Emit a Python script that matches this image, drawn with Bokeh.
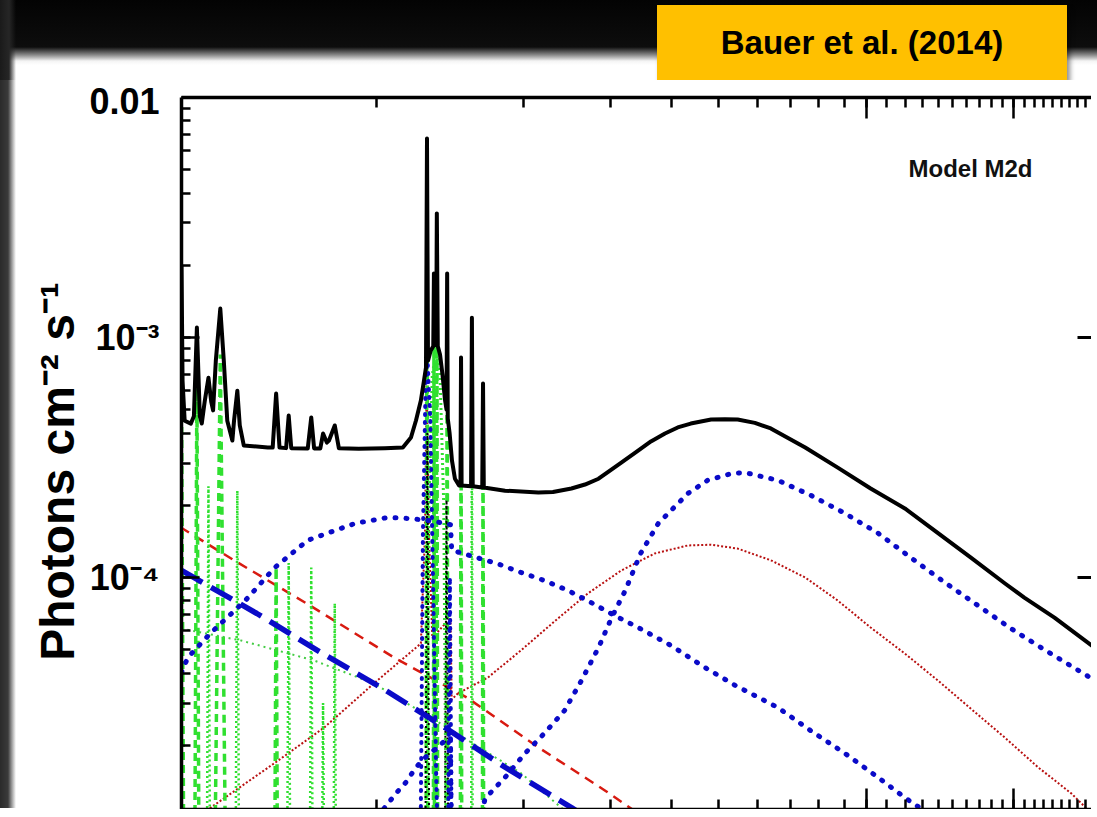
from bokeh.plotting import figure
from bokeh.layouts import column, row
from bokeh.models import (LogAxis, LogTicker, Label, Range1d, Div,
                          CustomJSTickFormatter)
from bokeh.embed import file_html
from bokeh.resources import INLINE

# ---------------- data: energy (keV) and photons cm^-2 s^-1 ----------------
# total model (black solid)
total_E = [2.00, 2.01, 2.03, 2.09, 2.12, 2.15, 2.18, 2.20, 2.23, 2.27, 2.30, 2.32,
           2.35, 2.40, 2.44, 2.48, 2.54, 2.56, 2.60, 2.63, 2.68, 3.00, 3.07, 3.12,
           3.17, 3.27, 3.31, 3.35, 3.62, 3.68, 3.73, 3.84, 3.89, 3.96, 4.00, 4.11,
           4.19, 4.60, 5.20, 5.66, 5.88, 6.02, 6.16, 6.25, 6.31, 6.34, 6.37, 6.45,
           6.53, 6.55, 6.57, 6.62, 6.64, 6.67, 6.74, 6.82, 6.90, 6.95, 6.97, 6.99,
           7.05, 7.13, 7.23, 7.37, 7.42, 7.44, 7.46, 7.80, 7.83, 7.86, 8.22, 8.25,
           8.28, 9.15, 10.7, 11.46, 12.5, 13.32, 14.2, 14.98, 15.8, 17.1, 18.16,
           19.4, 20.6, 21.9, 24.1, 25.72, 27.3, 29.6, 31.9, 37.5, 43.7, 51.0, 59.9,
           70.0, 81.7, 95.9, 105.0, 121.0, 146.0]
total_F = [2.0e-3, 6.6e-4, 4.5e-4, 4.38e-4, 4.7e-4, 1.10e-3, 4.7e-4, 4.38e-4, 5.4e-4,
           6.8e-4, 5.4e-4, 4.97e-4, 8.0e-4, 1.32e-3, 8.0e-4, 4.5e-4, 3.72e-4, 4.5e-4,
           6.0e-4, 4.3e-4, 3.55e-4, 3.48e-4, 3.48e-4, 5.84e-4, 3.48e-4, 3.46e-4,
           4.73e-4, 3.46e-4, 3.45e-4, 4.64e-4, 3.45e-4, 3.45e-4, 3.98e-4, 3.65e-4,
           3.72e-4, 4.30e-4, 3.46e-4, 3.44e-4, 3.46e-4, 3.48e-4, 3.83e-4, 4.51e-4,
           5.46e-4, 6.6e-4, 7.5e-4, 6.75e-3, 8.0e-4, 8.8e-4, 9.2e-4, 1.85e-3, 9.3e-4,
           9.3e-4, 3.29e-3, 9.2e-4, 8.5e-4, 7.0e-4, 5.5e-4, 5.0e-4, 1.85e-3, 4.6e-4,
           4.0e-4, 3.07e-4, 2.58e-4, 2.42e-4, 2.42e-4, 8.25e-4, 2.42e-4, 2.40e-4,
           1.21e-3, 2.40e-4, 2.37e-4, 6.43e-4, 2.37e-4, 2.30e-4, 2.26e-4, 2.27e-4,
           2.35e-4, 2.44e-4, 2.58e-4, 2.79e-4, 3.01e-4, 3.38e-4, 3.69e-4, 3.98e-4,
           4.22e-4, 4.38e-4, 4.55e-4, 4.57e-4, 4.55e-4, 4.41e-4, 4.18e-4, 3.48e-4,
           2.87e-4, 2.35e-4, 1.94e-4, 1.53e-4, 1.21e-4, 9.44e-5, 8.25e-5, 6.81e-5,
           5.11e-5]

# soft reflection hump (blue dotted, first)
blue1_E = [2.00, 2.06, 2.30, 2.70, 3.10, 3.62, 4.52, 5.28, 5.88, 6.50, 7.08, 7.12,
           7.80, 8.85, 9.86, 11.0, 12.3, 13.7, 15.3, 17.1, 19.95, 23.4, 27.0, 33.0,
           38.5, 45.2, 52.8, 59.9, 66.8, 76.9]
blue1_F = [4.02e-5, 4.64e-5, 5.90e-5, 8.02e-5, 1.10e-4, 1.43e-4, 1.68e-4, 1.78e-4,
           1.76e-4, 1.72e-4, 1.66e-4, 1.30e-4, 1.23e-4, 1.14e-4, 1.05e-4, 9.72e-5,
           8.83e-5, 7.87e-5, 6.95e-5, 6.19e-5, 5.21e-5, 4.22e-5, 3.55e-5, 2.87e-5,
           2.30e-5, 1.85e-5, 1.47e-5, 1.21e-5, 1.04e-5, 8.4e-6]

# Compton hump (blue dotted, second)
blue2_E = [5.18, 5.48, 5.74, 5.96, 6.19, 6.90, 7.08, 7.12, 8.17, 8.33, 9.15, 10.05,
           11.0, 12.1, 13.1, 14.2, 15.1, 16.1, 17.3, 18.8, 19.95, 21.6, 23.7, 26.5,
           28.2, 33.0, 38.5, 45.2, 52.8, 61.6, 72.3, 84.5, 98.6, 116.0, 144.0]
blue2_F = [1.09e-5, 1.26e-5, 1.40e-5, 1.57e-5, 1.73e-5, 2.09e-5, 2.15e-5, 6.0e-6,
           1.0e-5, 1.20e-5, 1.47e-5, 1.85e-5, 2.24e-5, 2.79e-5, 3.72e-5, 5.11e-5,
           6.81e-5, 8.83e-5, 1.26e-4, 1.68e-4, 1.90e-4, 2.24e-4, 2.54e-4, 2.71e-4,
           2.74e-4, 2.54e-4, 2.20e-4, 1.85e-4, 1.53e-4, 1.21e-4, 9.53e-5, 7.64e-5,
           6.13e-5, 4.97e-5, 3.80e-5]

# reflection (red dotted)
red_dot_E = [2.21, 2.25, 3.09, 3.91, 4.94, 6.16, 6.28, 6.33, 6.40, 6.50, 7.08, 7.12,
             7.33, 8.44, 9.86, 11.6, 13.5, 15.8, 18.5, 21.6, 24.1, 27.3, 31.9, 37.5,
             43.7, 51.0, 59.9, 70.0, 81.7, 95.9, 112.0, 131.0, 144.0]
red_dot_F = [1.0e-5, 1.07e-5, 1.68e-5, 2.37e-5, 3.62e-5, 5.31e-5, 1.5e-4, 6.6e-4,
             1.5e-4, 5.6e-5, 6.8e-5, 3.1e-5, 3.29e-5, 3.83e-5, 4.97e-5, 6.62e-5,
             8.58e-5, 1.07e-4, 1.26e-4, 1.36e-4, 1.37e-4, 1.32e-4, 1.18e-4, 1.0e-4,
             8.02e-5, 6.19e-5, 4.82e-5, 3.72e-5, 2.84e-5, 2.15e-5, 1.62e-5, 1.26e-5,
             1.04e-5]

# scattered power laws
red_dash_E = [1.99, 2.56, 3.66, 5.43, 7.65, 10.7, 14.6, 17.6]
red_dash_F = [1.62e-4, 1.18e-4, 7.64e-5, 4.64e-5, 3.16e-5, 1.96e-5, 1.30e-5, 1.0e-5]

blue_dash_E = [2.00, 2.85, 3.85, 5.11, 6.90, 9.15, 12.5, 14.2]
blue_dash_F = [1.07e-4, 7.08e-5, 4.87e-5, 3.48e-5, 2.37e-5, 1.62e-5, 1.10e-5, 9.3e-6]

green_pl_E = [2.00, 2.65, 3.73, 4.94, 6.77, 9.86, 12.1, 13.5]
green_pl_F = [6.13e-5, 5.46e-5, 4.51e-5, 3.62e-5, 2.46e-5, 1.53e-5, 1.07e-5, 8.8e-6]

# emission lines (green): centre keV, peak flux, half width keV
line_floor = 3e-6
green_dash_E = [1.995, 2.15, 2.40, 3.12, 6.34, 6.55, 6.64, 6.97, 7.44, 8.25]
green_dash_F = [1.6e-3, 6.5e-4, 8.5e-4, 1.1e-4, 6.0e-3, 1.0e-3, 2.5e-3, 1.4e-3, 5.8e-4, 4.0e-4]
green_dash_W = [0.03, 0.025, 0.07, 0.025, 0.03, 0.02, 0.03, 0.025, 0.03, 0.03]

green_dot_E = [2.27, 2.60, 3.31, 3.68, 3.89, 4.11, 7.83]
green_dot_F = [2.4e-4, 2.3e-4, 1.15e-4, 1.1e-4, 3.0e-5, 7.8e-5, 9.7e-4]
green_dot_W = [0.02, 0.025, 0.03, 0.03, 0.03, 0.03, 0.03]

green_hump_E = [6.30, 6.40, 6.50, 6.62, 6.74, 6.86, 6.96]
green_hump_F = [3e-6, 2.0e-4, 7.0e-4, 8.8e-4, 7.0e-4, 2.0e-4, 3e-6]

# Fe K lines of the reflectors
blue_ka_E = [6.13, 6.22, 6.30, 6.36, 6.44, 6.52, 6.62, 6.75]
blue_ka_F = [3e-6, 1.5e-4, 6.5e-4, 7.9e-4, 4.5e-4, 1.0e-4, 1.5e-5, 3e-6]
blue_kb_E = [6.98, 7.06, 7.14]
blue_kb_F = [3e-6, 1.0e-4, 3e-6]
black_fe_E = [6.28, 6.35, 6.42, 6.88, 6.95, 7.02]
black_fe_F = [3e-6, 4.0e-4, 3e-6, 3e-6, 2.1e-4, 3e-6]

y_tick_values = [1e-4, 1e-3, 1e-2]
y_tick_labels = ["10\u207b\u2074", "10\u207b\u00b3", "0.01"]

y_title = "Photons cm\u207b\u00b2 s\u207b\u00b9"
model_name = "Model M2d"
source_note = "Bauer et al. (2014)"

# ---------------- figure ----------------
SANS = "'Liberation Sans', Arial, sans-serif"
HEAD_H = 80
STRIP_W = 16
FW, FH = 910, 712

p = figure(frame_width=FW, frame_height=FH,
           x_axis_type="log", y_axis_type="log",
           x_range=Range1d(2.0, 144.0), y_range=Range1d(1.08e-5, 1e-2),
           x_axis_location="above", output_backend="svg", toolbar_location=None,
           min_border_left=181 - STRIP_W, min_border_top=97 - HEAD_H,
           min_border_right=0, min_border_bottom=0, outline_line_color=None,
           background_fill_color="white", border_fill_color="white", margin=0)
p.grid.visible = False

def hide_labels(ax):
    ax.major_label_text_font_size = "1px"
    ax.major_label_text_alpha = 0
    ax.major_label_standoff = 0

def style_x(ax):
    ax.axis_line_width = 3.5
    ax.major_tick_in = 21
    ax.major_tick_out = 0
    ax.minor_tick_in = 10
    ax.minor_tick_out = 0
    ax.major_tick_line_width = 2.5
    ax.minor_tick_line_width = 2.5
    hide_labels(ax)

style_x(p.xaxis[0])
bottom = LogAxis(ticker=LogTicker(num_minor_ticks=10))
style_x(bottom)
p.add_layout(bottom, "below")

ya = p.yaxis[0]
ya.axis_line_width = 3.5
ya.major_tick_in = 18
ya.major_tick_out = 0
ya.minor_tick_in = 9
ya.minor_tick_out = 0
ya.major_tick_line_width = 2.5
ya.minor_tick_line_width = 2.5
ya.formatter = CustomJSTickFormatter(args=dict(vals=y_tick_values, labs=y_tick_labels), code="""
for (let i = 0; i < vals.length; i++) {
  if (Math.abs(Math.log10(tick) - Math.log10(vals[i])) < 1e-6) { return labs[i]; }
}
return "";
""")
ya.major_label_text_font = SANS
ya.major_label_text_font_style = "bold"
ya.major_label_text_font_size = "36px"
ya.major_label_text_color = "black"
ya.major_label_standoff = 22
ya.axis_label = y_title + "\u2002\u2005"
ya.axis_label_text_font = SANS
ya.axis_label_text_font_style = "bold"
ya.axis_label_text_font_size = "48px"
ya.axis_label_text_color = "black"
ya.axis_label_standoff = 2

right = LogAxis(ticker=LogTicker(num_minor_ticks=10))
right.axis_line_color = None
right.major_tick_in = 14
right.major_tick_out = 0
right.minor_tick_in = 0
right.minor_tick_out = 0
right.major_tick_line_width = 3
hide_labels(right)
p.add_layout(right, "right")

# ---------------- components ----------------
BLUE = "#0a0ac8"
GREEN = "#30e030"
RED = "#d81a10"
DRED = "#b81010"

p.line(red_dot_E, red_dot_F, line_color=DRED, line_width=2, line_dash="2 2")
p.line(red_dash_E, red_dash_F, line_color=RED, line_width=2.5, line_dash="10 7")

gd_xs = [[c - w, c, c + w] for c, w in zip(green_dash_E, green_dash_W)]
gd_ys = [[line_floor, f, line_floor] for f in green_dash_F]
p.multi_line(gd_xs, gd_ys, line_color=GREEN, line_width=3.5, line_dash="8 5")
go_xs = [[c - w, c, c + w] for c, w in zip(green_dot_E, green_dot_W)]
go_ys = [[line_floor, f, line_floor] for f in green_dot_F]
p.multi_line(go_xs, go_ys, line_color=GREEN, line_width=2.5, line_dash="2 3")
p.line(green_hump_E, green_hump_F, line_color=GREEN, line_width=3, line_dash="2 3")
p.line(green_pl_E, green_pl_F, line_color="#44cc44", line_width=2, line_dash="2 4")

p.line(black_fe_E, black_fe_F, line_color="black", line_width=2, line_dash="2 3")
p.multi_line([blue_ka_E, blue_kb_E], [blue_ka_F, blue_kb_F], line_color=BLUE,
             line_width=4, line_dash="1 7", line_cap="round")
p.line(blue1_E, blue1_F, line_color=BLUE, line_width=5, line_dash="1 10", line_cap="round")
p.line(blue2_E, blue2_F, line_color=BLUE, line_width=5, line_dash="1 10", line_cap="round")
p.line(blue_dash_E, blue_dash_F, line_color=BLUE, line_width=5.5, line_dash="24 10")

p.line(total_E, total_F, line_color="black", line_width=4, line_join="round")

p.add_layout(Label(x=789, y=FH - 71, x_units="screen", y_units="screen",
                   text=model_name, text_align="center", text_baseline="middle",
                   text_font=SANS, text_font_style="bold",
                   text_font_size="24px", text_color="#111111"))

# ---------------- photo frame: dark band, left edge and source box ----------------
header = Div(width=1097, height=HEAD_H, margin=0, text=f"""
<div style="position:relative;width:1097px;height:{HEAD_H}px;overflow:hidden;
background:linear-gradient(180deg,#030303 0px,#0d0d0d 47px,#8a8a8a 55px,#f4f4f4 61px,#ffffff 65px);">
<div style="position:absolute;left:0;top:0;width:{STRIP_W}px;height:{HEAD_H}px;
background:linear-gradient(90deg,#1a1a1a 0px,#262626 9px,rgba(255,255,255,0) {STRIP_W}px);"></div>
<div style="position:absolute;left:657px;top:5px;width:410px;height:75px;background:#ffc000;
box-shadow:3px 4px 5px rgba(0,0,0,0.45);display:flex;align-items:center;justify-content:center;
font-family:'Liberation Sans',Arial,sans-serif;font-weight:bold;font-size:33px;color:#000;">{source_note}</div>
</div>""")
strip = Div(width=STRIP_W, height=728, margin=0, text=f"""
<div style="width:{STRIP_W}px;height:728px;
background:linear-gradient(90deg,#2a2a2a 0px,#3a3a3a 8px,#b8b8b8 13px,#ffffff {STRIP_W}px);"></div>""")

layout = column(header, row(strip, p, spacing=0, margin=0), spacing=0, margin=0)

open("out.html", "w").write(file_html(layout, INLINE))
